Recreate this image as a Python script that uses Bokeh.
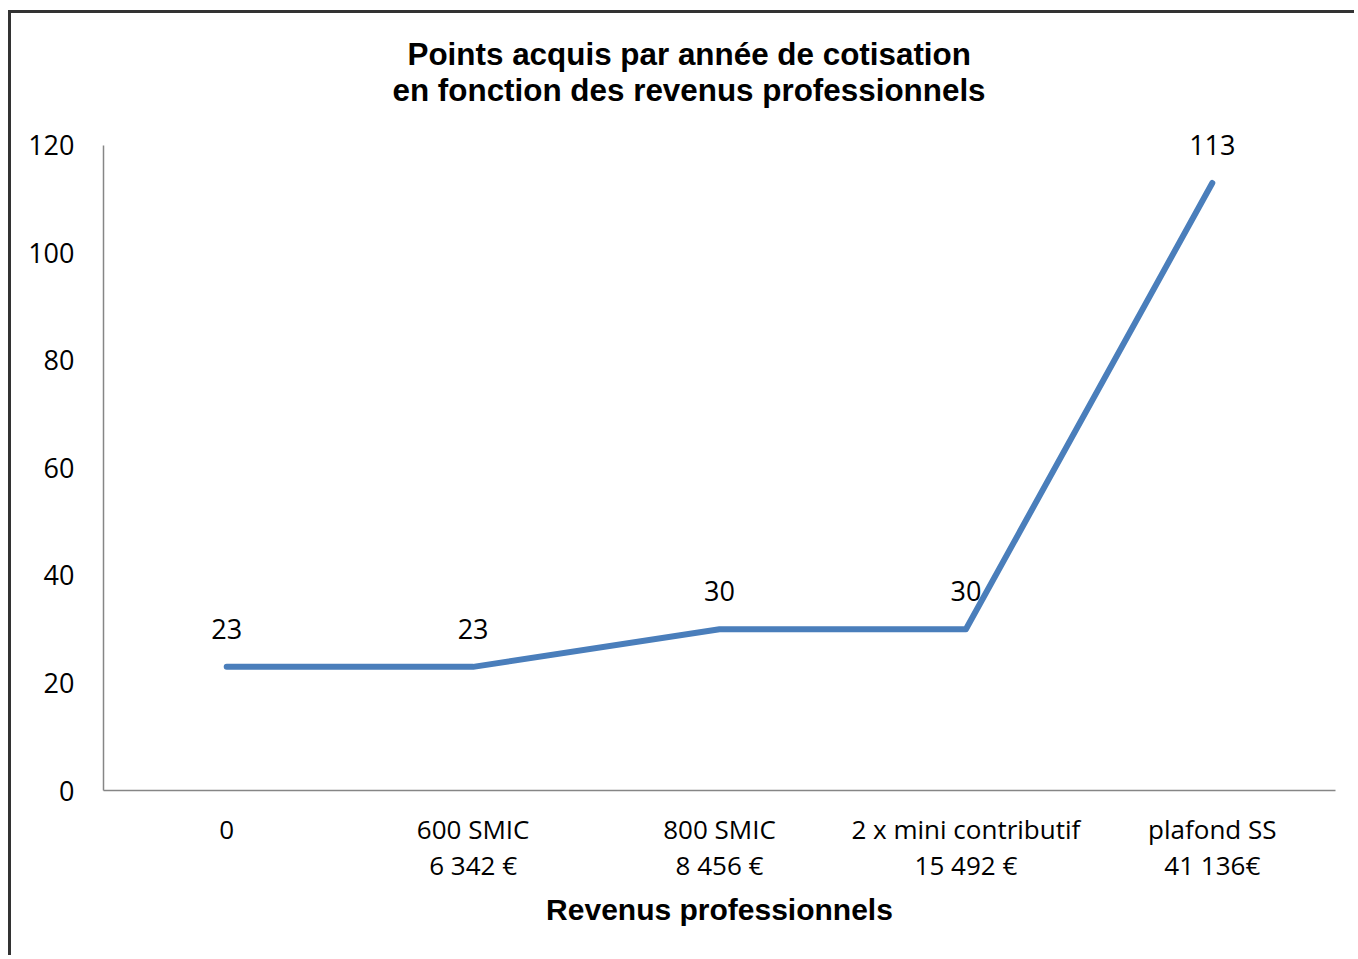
from bokeh.plotting import figure
from bokeh.models import FactorRange, Title
from bokeh.core.properties import value
from bokeh.embed import file_html
from bokeh.resources import INLINE

categories = ["0", "600 SMIC\n6 342 €", "800 SMIC\n8 456 €", "2 x mini contributif\n15 492 €", "plafond SS\n41 136€"]
points = [23, 23, 30, 30, 113]
y_ticks = [0, 20, 40, 60, 80, 100, 120]
title_lines = ["Points acquis par année de cotisation", "en fonction des revenus professionnels"]
x_title = "Revenus professionnels"

p = figure(x_range=FactorRange(*categories, range_padding=0), y_range=(0, 125),
           width=1346, height=945, output_backend="svg", toolbar_location=None,
           min_border_left=92, min_border_top=105, min_border_right=22, min_border_bottom=168)
p.styles = {"border-top": "3px solid #333333", "border-left": "3px solid #333333",
            "margin-left": "8px", "margin-top": "10px"}
p.outline_line_color = None
p.xgrid.grid_line_color = None
p.ygrid.grid_line_color = None

for ax in (p.xaxis[0], p.yaxis[0]):
    ax.axis_line_color = "#868686"
    ax.axis_line_width = 1.5
    ax.major_tick_line_color = None
    ax.minor_tick_line_color = None
    ax.major_tick_in = 0
    ax.major_tick_out = 0
    ax.major_label_text_font = "Open Sans"
    ax.major_label_text_color = "#000000"

p.yaxis.ticker = y_ticks
p.yaxis.bounds = (0, 120)
p.yaxis.major_label_text_font_size = "27px"
p.yaxis.major_label_standoff = 29
p.xaxis.major_label_text_font_size = "26px"
p.xaxis.major_label_standoff = 20
p.xaxis.major_label_text_line_height = 1.0
p.xaxis.axis_label = x_title
p.xaxis.axis_label_text_font = "Liberation Sans"
p.xaxis.axis_label_text_font_style = "bold"
p.xaxis.axis_label_text_font_size = "30px"
p.xaxis.axis_label_text_color = "#000000"
p.xaxis.axis_label_standoff = 7

p.line(x=categories, y=points, line_color="#4A7EBB", line_width=6,
       line_join="round", line_cap="round")
p.text(x=categories, y=points, text=[str(v) for v in points], y_offset=-38,
       text_align="center", text_baseline="middle", text_font=value("Open Sans"),
       text_font_size="27px", text_color="#000000")

for t, off, so in [(title_lines[1], 289, 22), (title_lines[0], 304, -24)]:
    p.add_layout(Title(text=t, align="left", offset=off, standoff=so,
                       text_font="Liberation Sans", text_font_style="bold",
                       text_font_size="31.4px", text_color="#000000"), "above")

open("out.html", "w").write(file_html(p, INLINE))
